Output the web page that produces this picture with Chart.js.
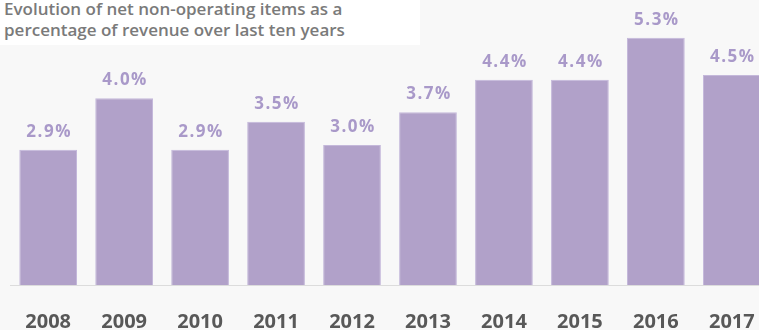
<!DOCTYPE html>
<html>
<head>
<meta charset="utf-8">
<script src="https://cdn.jsdelivr.net/npm/chart.js@4/dist/chart.umd.min.js"></script>
<style>
  html, body { margin: 0; padding: 0; background: #f7f7f7; }
  #wrap { position: relative; width: 759px; height: 330px; overflow: hidden; background: #f8f8f8; }
  #box { position: absolute; left: 0; top: 0; width: 780px; height: 359px; }
  #title {
    position: absolute; left: 0; top: 0; width: 420px; height: 47px;
    background: #fff; color: #7a7a7a;
    font: 600 17px "Open Sans", sans-serif; line-height: 21px;
    padding: 0 0 0 4px; box-sizing: border-box; z-index: 2;
    margin-top: -2px;
  }
</style>
</head>
<body>
<div id="wrap">
  <div id="box"><canvas id="revChart"></canvas></div>
  <div id="title">Evolution of net non-operating items as a<br>percentage of revenue over last ten years</div>
</div>
<script>
// data
const years = ['2008', '2009', '2010', '2011', '2012', '2013', '2014', '2015', '2016', '2017'];
const pctValues = [2.9, 4.0, 2.9, 3.5, 3.0, 3.7, 4.4, 4.4, 5.3, 4.5];

// value labels above each bar
const barLabels = {
    id: 'barLabels',
    afterDatasetsDraw(chart) {
        const ctx = chart.ctx;
        const meta = chart.getDatasetMeta(0);
        ctx.save();
        ctx.font = 'bold 17px "Open Sans", sans-serif';
        ctx.letterSpacing = '1.5px';
        ctx.fillStyle = '#a999c9';
        ctx.textAlign = 'center';
        ctx.textBaseline = 'middle';
        meta.data.forEach((bar, i) => {
            ctx.fillText(pctValues[i].toFixed(1) + '%', bar.x + 1, bar.y - 18);
        });
        ctx.restore();
    }
};

const ctx = document.getElementById('revChart').getContext('2d');
new Chart(ctx, {
    type: 'bar',
    data: {
        labels: years,
        datasets: [{
            data: pctValues,
            backgroundColor: '#b1a1c9',
            borderColor: '#c4b8da',
            borderWidth: 1,
            barPercentage: 0.76,
            categoryPercentage: 1.0
        }]
    },
    options: {
        responsive: true,
        maintainAspectRatio: false,
        animation: false,
        layout: { padding: { left: 9, right: 7, top: 5, bottom: 0 } },
        plugins: {
            legend: { display: false },
            tooltip: { enabled: false }
        },
        scales: {
            x: {
                grid: { display: false, drawTicks: false },
                border: { display: true, color: '#dcdcdc', width: 1 },
                ticks: {
                    color: '#585858',
                    font: { family: '"Open Sans", sans-serif', size: 20, weight: 'bold' },
                    padding: 25
                }
            },
            y: {
                display: false,
                min: 0,
                max: 6
            }
        }
    },
    plugins: [barLabels]
});
</script>
</body>
</html>
